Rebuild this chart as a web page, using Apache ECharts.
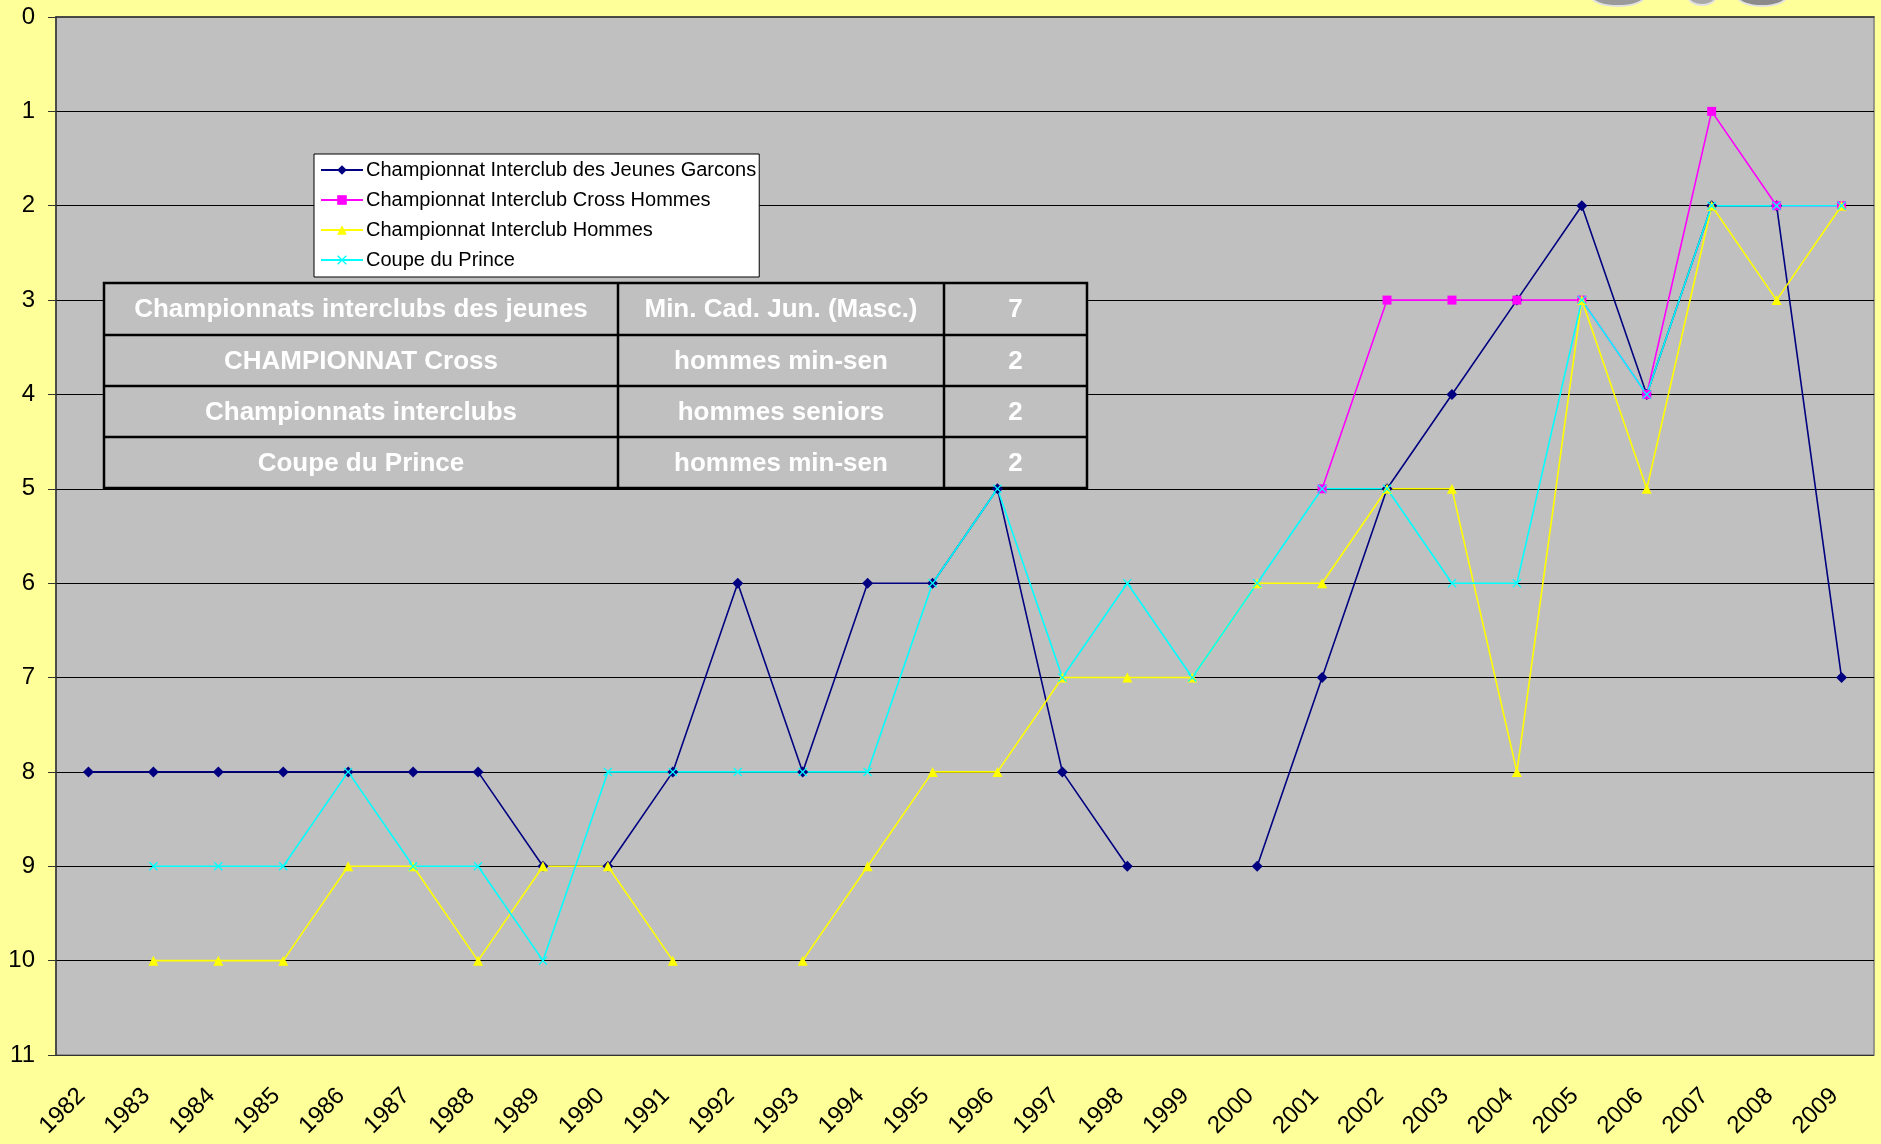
<!DOCTYPE html>
<html><head><meta charset="utf-8">
<script src="https://cdn.jsdelivr.net/npm/echarts@6/dist/echarts.min.js"></script>
<style>html,body{margin:0;padding:0;background:#FFFF99}#c{width:1881px;height:1144px}</style>
</head><body><div id="c"></div><script>
const years = ['1982','1983','1984','1985','1986','1987','1988','1989','1990','1991','1992','1993','1994','1995','1996','1997','1998','1999','2000','2001','2002','2003','2004','2005','2006','2007','2008','2009'];
const jeunes = [8,8,8,8,8,8,8,9,9,8,6,8,6,6,5,8,9,null,9,7,5,4,3,2,4,2,2,7];
const cross  = [null,null,null,null,null,null,null,null,null,null,null,null,null,null,null,null,null,null,null,5,3,3,3,3,4,1,2,2];
const hommes = [null,10,10,10,9,9,10,9,9,10,null,10,9,8,8,7,7,7,6,6,5,5,8,3,5,2,3,2];
const prince = [null,9,9,9,8,9,9,10,8,8,8,8,8,6,5,7,6,7,6,5,5,6,6,3,4,2,2,2];
const seriesNames = ['Championnat Interclub des Jeunes Garcons','Championnat Interclub Cross Hommes','Championnat Interclub Hommes','Coupe du Prince'];
const tableCol1 = ['Championnats interclubs des jeunes','CHAMPIONNAT Cross','Championnats interclubs','Coupe du Prince'];
const tableCol2 = ['Min. Cad. Jun. (Masc.)','hommes min-sen','hommes seniors','hommes min-sen'];
const tableCol3 = ['7','2','2','2'];

const chart = echarts.init(document.getElementById('c'));
const FONT = '"Liberation Sans", Arial, sans-serif';
const NARROW = '"Liberation Sans Narrow", "Arial Narrow", "Liberation Sans", Arial, sans-serif';
const xPath = 'path://M0,1L1,0L5,4L9,0L10,1L6,5L10,9L9,10L5,6L1,10L0,9L4,5Z';

function mk(name, data, color, symbol, size) {
  return {
    name, type: 'line', data, symbol, symbolSize: size, showSymbol: true,
    connectNulls: false, animation: false,
    lineStyle: { color, width: 1.6 },
    itemStyle: { color, borderColor: color, borderWidth: 0 },
    emphasis: { disabled: true }
  };
}

// table graphics
const tL = 104, tT = 283, colX = [104, 618, 944, 1087], rowY = [283, 335, 386, 437, 488];
const g = [];
g.push({ type: 'rect', shape: { x: tL, y: tT, width: colX[3]-tL, height: rowY[4]-tT }, style: { fill: '#C0C0C0', stroke: '#000', lineWidth: 2.5 }, z: 1 });
for (let i = 1; i < 4; i++) g.push({ type: 'line', shape: { x1: tL, y1: rowY[i], x2: colX[3], y2: rowY[i] }, style: { stroke: '#000', lineWidth: 2.5 }, z: 1 });
for (let j = 1; j < 3; j++) g.push({ type: 'line', shape: { x1: colX[j], y1: tT, x2: colX[j], y2: rowY[4] }, style: { stroke: '#000', lineWidth: 2.5 }, z: 1 });
const cols = [tableCol1, tableCol2, tableCol3];
for (let j = 0; j < 3; j++) for (let i = 0; i < 4; i++) {
  g.push({ type: 'text', x: (colX[j]+colX[j+1])/2, y: (rowY[i]+rowY[i+1])/2 + 1, z: 1,
    style: { text: cols[j][i], fill: '#fff', font: 'bold 26px ' + NARROW, textAlign: 'center', textVerticalAlign: 'middle' } });
}
// cropped logo fragments at the top edge
g.push({ type: 'ellipse', shape: { cx: 1618, cy: -3, rx: 26, ry: 9 }, style: { fill: '#9a9a9a', stroke: '#e0e0e0', lineWidth: 2 }, z: 5 });
g.push({ type: 'ellipse', shape: { cx: 1702, cy: -2, rx: 13, ry: 7 }, style: { fill: '#a8a8a8', stroke: '#e0e0e0', lineWidth: 2 }, z: 5 });
g.push({ type: 'ellipse', shape: { cx: 1762, cy: -3, rx: 24, ry: 9 }, style: { fill: '#8a8a8a', stroke: '#e0e0e0', lineWidth: 2 }, z: 5 });

chart.setOption({
  backgroundColor: '#FFFF99',
  animation: false,
  grid: { left: 56, top: 17, right: 7, bottom: 89, show: true, backgroundColor: '#C0C0C0', borderColor: '#808080', borderWidth: 1.5, containLabel: false, outerBoundsMode: 'none' },
  legend: {
    orient: 'vertical', left: 314, top: 154,
    backgroundColor: '#fff', borderColor: '#000', borderWidth: 1,
    padding: [6, 3, 7, 6], itemGap: 10, itemWidth: 42, itemHeight: 12,
    textStyle: { fontFamily: FONT, fontSize: 20, color: '#000', padding: [0,0,0,-2] },
    data: seriesNames, selectedMode: false
  },
  xAxis: {
    type: 'category', data: years, boundaryGap: true,
    axisLine: { lineStyle: { color: '#333', width: 1.5 } },
    axisTick: { inside: true, length: 10, lineStyle: { color: '#333' } },
    axisLabel: { rotate: 45, fontSize: 24, fontFamily: FONT, color: '#000', margin: 30, padding: [0, 10, 0, 0], interval: 0 },
    splitLine: { show: false }
  },
  yAxis: {
    type: 'value', min: 0, max: 11, interval: 1, inverse: true,
    axisLine: { show: true, lineStyle: { color: '#333', width: 1.5 } },
    axisTick: { show: true, inside: false, length: 8, lineStyle: { color: '#333' } },
    axisLabel: { fontSize: 24, fontFamily: FONT, color: '#000', margin: 21 },
    splitLine: { show: true, lineStyle: { color: ['#808080','#000','#000','#000','#000','#000','#000','#000','#000','#000','#000','#333'], width: 1.2 } }
  },
  graphic: g,
  series: [
    mk(seriesNames[0], jeunes, '#000080', 'diamond', 11),
    mk(seriesNames[1], cross, '#FF00FF', 'rect', 9),
    mk(seriesNames[2], hommes, '#FFFF00', 'triangle', 10),
    mk(seriesNames[3], prince, '#00FFFF', xPath, 9)
  ]
});
</script></body></html>
